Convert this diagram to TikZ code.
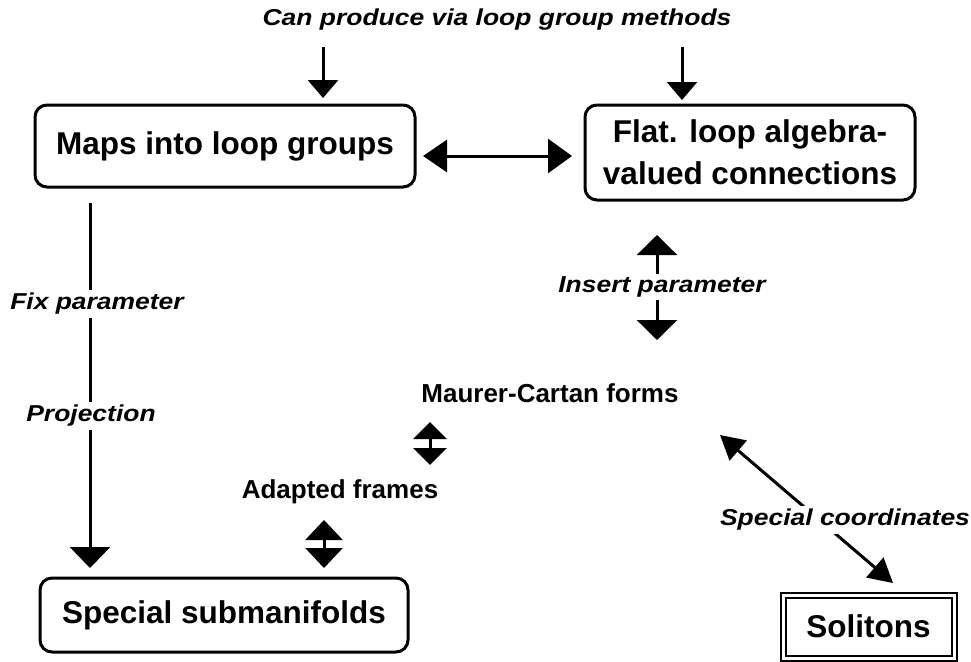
\documentclass[tikz,border=0pt]{standalone}
\usepackage{fontspec}
\setmainfont{Liberation Sans}
\usetikzlibrary{arrows.meta}
\begin{document}
\begin{tikzpicture}[x=1pt,y=-1pt,
  box/.style={draw, line width=3pt, rounded corners=12pt, font=\fontsize{31.5}{42}\selectfont\bfseries, align=center, inner sep=0pt},
  lbl/.style={font=\fontsize{23}{27}\selectfont\bfseries\itshape, fill=white, inner sep=3pt},
  blbl/.style={font=\fontsize{26}{30}\selectfont\bfseries, inner sep=0pt},
  arr/.style={line width=3pt, -{Triangle[width=30pt,length=18pt]}},
  bigarr/.style={line width=3pt, -{Triangle[width=40pt,length=21pt]}},
  dbl/.style={line width=3pt, {Triangle[width=#1,length=17pt]}-{Triangle[width=#1,length=17pt]}},
]
\useasboundingbox (0,0) rectangle (971,661);

% boxes
\node[box, minimum width=380pt, minimum height=82pt] (maps) at (225,146) {Maps into loop groups};
\node[box, minimum width=330pt, minimum height=95pt] (flat) at (750,152.5) {Flat. loop algebra-\\valued connections};
\node[box, minimum width=368pt, minimum height=74pt] (sub) at (224,615) {Special submanifolds};
\node[draw, double, double distance=3pt, line width=2pt, minimum width=171pt, minimum height=63pt, inner sep=0pt,
      font=\fontsize{31.5}{38}\selectfont\bfseries] (sol) at (868.5,626.5) {Solitons};

% plain labels
\node[blbl] (mc) at (550,393) {Maurer-Cartan forms};
\node[blbl] (af) at (340,492) {Adapted frames};

% top label and arrows
\node[lbl] (top) at (497,20) {\scalebox{1.15}[1]{Can produce via loop group methods}};
\coordinate (t1s) at (323,47);
\coordinate (t1e) at (323,98);
\coordinate (t2s) at (682,47);
\coordinate (t2e) at (682,100);
\draw[arr] (t1s) -- (t1e);
\draw[arr] (t2s) -- (t2e);

% double arrow between top boxes
\coordinate (h1) at (423,156);
\coordinate (h2) at (572,156);
\draw[line width=3pt, {Triangle[width=32pt,length=24pt]}-{Triangle[width=34pt,length=24pt]}] (h1) -- (h2);

% left vertical projection arrow
\coordinate (v1s) at (90,203);
\coordinate (v1e) at (90,568);
\draw[bigarr] (v1s) -- (v1e);
\node[lbl] (fix) at (97,304) {\scalebox{1.15}[1]{Fix parameter}};
\node[lbl] (proj) at (91,416) {\scalebox{1.15}[1]{Projection}};

% insert parameter
\coordinate (i1) at (657,235);
\coordinate (i2) at (657,340);
\draw[line width=3pt, {Triangle[width=40pt,length=20pt]}-{Triangle[width=40pt,length=20pt]}] (i1) -- (i2);
\node[lbl] (ins) at (662,287) {\scalebox{1.15}[1]{Insert parameter}};

% Maurer-Cartan <-> Adapted frames
\coordinate (m1) at (430,422);
\coordinate (m2) at (430,465);
\draw[dbl=33pt] (m1) -- (m2);

% Adapted frames <-> Special submanifolds
\coordinate (a1) at (324,520);
\coordinate (a2) at (324,568);
\draw[line width=3pt, {Triangle[width=37pt,length=20pt]}-{Triangle[width=37pt,length=20pt]}] (a1) -- (a2);

% special coordinates
\coordinate (s1) at (720,435);
\coordinate (s2) at (893,583);
\draw[line width=3pt, {Triangle[width=26pt,length=24pt]}-{Triangle[width=26pt,length=24pt]}] (s1) -- (s2);
\node[lbl] (spc) at (845,520) {\scalebox{1.15}[1]{Special coordinates}};
\end{tikzpicture}
\end{document}
